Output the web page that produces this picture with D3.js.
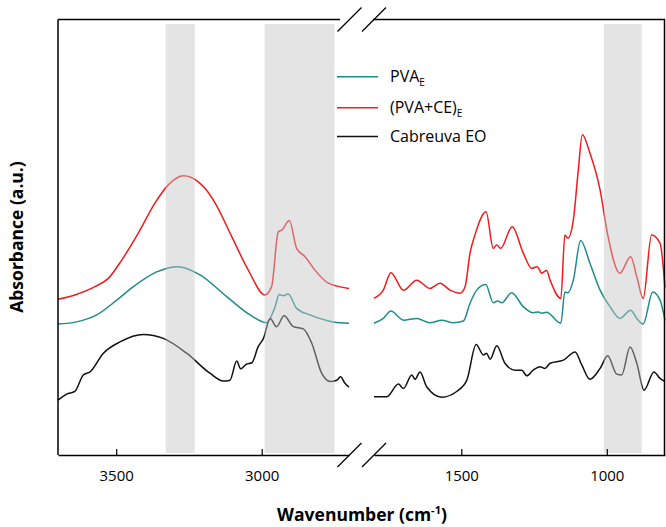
<!DOCTYPE html>
<html>
<head>
<meta charset="utf-8">
<script src="https://cdn.jsdelivr.net/npm/d3@7"></script>
<style>
  body { margin: 0; background: #fff; }
  svg { display: block; font-family: 'Open Sans', sans-serif; }
</style>
</head>
<body>
<div id="chart"></div>
<script>
// FTIR spectra, [wavenumber (cm-1), absorbance (a.u.)]
const pvaE = [
  [3700, 0.301], [3636, 0.306], [3567, 0.322], [3498, 0.356], [3441, 0.387], [3361, 0.421],
  [3287, 0.433], [3212, 0.414], [3120, 0.364], [3040, 0.322], [2983, 0.304], [2954, 0.341],
  [2940, 0.369], [2926, 0.366], [2909, 0.370], [2880, 0.337], [2834, 0.322], [2754, 0.306],
  [2700, 0.303],
  [1800, 0.303], [1768, 0.314], [1742, 0.331], [1699, 0.310], [1653, 0.314], [1608, 0.304],
  [1567, 0.310], [1527, 0.304], [1493, 0.308], [1470, 0.349], [1447, 0.379], [1416, 0.392],
  [1390, 0.350], [1375, 0.354], [1361, 0.350], [1327, 0.373], [1287, 0.341], [1253, 0.327],
  [1235, 0.329], [1224, 0.326], [1207, 0.328], [1158, 0.303], [1144, 0.375], [1134, 0.373],
  [1115, 0.402], [1090, 0.493], [1058, 0.441], [1023, 0.379], [989, 0.341], [955, 0.314],
  [918, 0.333], [897, 0.314], [875, 0.301], [842, 0.375], [817, 0.356], [800, 0.310]
];
const pvaCeE = [
  [3700, 0.358], [3642, 0.368], [3573, 0.387], [3527, 0.406], [3481, 0.448], [3424, 0.510],
  [3367, 0.579], [3321, 0.621], [3269, 0.642], [3218, 0.628], [3195, 0.613], [3160, 0.579],
  [3103, 0.502], [3046, 0.425], [2989, 0.368], [2966, 0.387], [2943, 0.513], [2931, 0.517],
  [2905, 0.539], [2880, 0.475], [2851, 0.456], [2817, 0.425], [2771, 0.395], [2700, 0.383],
  [1800, 0.360], [1768, 0.379], [1742, 0.419], [1699, 0.379], [1653, 0.402], [1608, 0.383],
  [1573, 0.395], [1539, 0.379], [1504, 0.372], [1487, 0.387], [1470, 0.464], [1453, 0.506],
  [1415, 0.559], [1390, 0.475], [1378, 0.483], [1365, 0.475], [1325, 0.525], [1287, 0.464],
  [1258, 0.429], [1239, 0.433], [1224, 0.418], [1207, 0.424], [1195, 0.402], [1158, 0.360],
  [1144, 0.506], [1134, 0.498], [1115, 0.540], [1098, 0.655], [1084, 0.736], [1058, 0.694],
  [1023, 0.609], [998, 0.510], [955, 0.418], [918, 0.456], [897, 0.410], [875, 0.360],
  [846, 0.506], [817, 0.487], [800, 0.385]
];
const cabreuvaEO = [
  [3700, 0.126], [3670, 0.140], [3642, 0.146], [3613, 0.184], [3590, 0.191], [3544, 0.234],
  [3487, 0.260], [3407, 0.277], [3338, 0.268], [3258, 0.234], [3178, 0.188], [3132, 0.170],
  [3109, 0.172], [3086, 0.216], [3072, 0.198], [3052, 0.209], [3034, 0.212], [3012, 0.249],
  [2994, 0.268], [2971, 0.314], [2949, 0.295], [2923, 0.320], [2891, 0.295], [2857, 0.290],
  [2828, 0.257], [2794, 0.188], [2765, 0.169], [2742, 0.172], [2729, 0.180], [2714, 0.165],
  [2700, 0.156],
  [1800, 0.134], [1756, 0.134], [1716, 0.163], [1699, 0.153], [1670, 0.184], [1659, 0.174],
  [1642, 0.191], [1619, 0.157], [1567, 0.133], [1516, 0.146], [1481, 0.172], [1449, 0.254],
  [1424, 0.230], [1413, 0.234], [1401, 0.220], [1378, 0.251], [1350, 0.211], [1315, 0.195],
  [1292, 0.195], [1275, 0.182], [1253, 0.195], [1230, 0.203], [1212, 0.199], [1195, 0.211],
  [1149, 0.218], [1109, 0.237], [1086, 0.207], [1058, 0.174], [1023, 0.199], [997, 0.228],
  [966, 0.186], [949, 0.184], [920, 0.248], [897, 0.211], [872, 0.149], [838, 0.191],
  [817, 0.176], [800, 0.169]
];

const seriesNames = ['PVA', '(PVA+CE)', 'Cabreuva EO'];
const seriesSubs = ['E', 'E', ''];
const seriesColors = ['#1f8c8c', '#f01c1c', '#111111'];
const seriesData = [pvaE, pvaCeE, cabreuvaEO];

const leftDomain = [3700, 2700];
const rightDomain = [1800, 800];
const leftTicks = [3500, 3000];
const rightTicks = [1500, 1000];
const bands = [[3330, 3230], [2990, 2750], [1010, 880]];

const width = 666, height = 527;
const yTop = 20, yBottom = 455;

const svg = d3.select('#chart').append('svg')
  .attr('width', width)
  .attr('height', height);

const xLeft = d3.scaleLinear().domain(leftDomain).range([58, 349]);
const xRight = d3.scaleLinear().domain(rightDomain).range([374, 665]);
const y = d3.scaleLinear().domain([0, 1]).range([yBottom, yTop]);

const panels = [
  { x: xLeft, keep: d => d[0] >= 2700 },
  { x: xRight, keep: d => d[0] <= 1800 }
];

// curves
seriesData.forEach((data, i) => {
  panels.forEach(p => {
    const line = d3.line()
      .x(d => p.x(d[0]))
      .y(d => y(d[1]))
      .curve(d3.curveMonotoneX);
    svg.append('path')
      .datum(data.filter(p.keep))
      .attr('fill', 'none')
      .attr('stroke', seriesColors[i])
      .attr('stroke-width', 1.5)
      .attr('d', line);
  });
});

// grey bands sit on top of the curves
bands.forEach(b => {
  const sc = b[0] > 2000 ? xLeft : xRight;
  svg.append('rect')
    .attr('x', sc(b[0]))
    .attr('y', 24)
    .attr('width', sc(b[1]) - sc(b[0]))
    .attr('height', 453 - 24)
    .attr('fill', '#c4c4c4')
    .attr('opacity', 0.45);
});

// frame
const frame = svg.append('g').attr('stroke', '#000').attr('stroke-width', 1.5).attr('fill', 'none');
frame.append('line').attr('x1', 58).attr('x2', 58).attr('y1', yTop - 0.5).attr('y2', yBottom);
frame.append('line').attr('x1', 664.5).attr('x2', 664.5).attr('y1', yTop - 0.5).attr('y2', yBottom);
frame.append('line').attr('x1', 58).attr('x2', 340).attr('y1', yTop - 0.5).attr('y2', yTop - 0.5);
frame.append('line').attr('x1', 373).attr('x2', 665).attr('y1', yTop - 0.5).attr('y2', yTop - 0.5);

// break marks
[349.5, 374].forEach(cx => {
  [yTop - 0.5, yBottom].forEach(cy => {
    frame.append('line')
      .attr('x1', cx - 12).attr('y1', cy + 12)
      .attr('x2', cx + 12).attr('y2', cy - 12)
      .attr('stroke-width', 1.2);
  });
});

// x axes
[[xLeft, leftTicks], [xRight, rightTicks]].forEach(([sc, ticks]) => {
  const g = svg.append('g')
    .attr('transform', `translate(0,${yBottom})`)
    .call(d3.axisBottom(sc).tickValues(ticks).tickFormat(d3.format('d'))
      .tickSizeInner(-6).tickSizeOuter(0).tickPadding(15));
  g.select('.domain').attr('stroke-width', 1.5);
  g.selectAll('.tick line').attr('stroke-width', 1.2);
  g.selectAll('.tick text')
    .attr('font-size', 15)
    .attr('font-family', 'Open Sans, sans-serif')
    .attr('fill', '#000');
});

// axis titles
const xt = svg.append('text')
  .attr('x', 362).attr('y', 521)
  .attr('text-anchor', 'middle')
  .attr('font-size', 17.5)
  .attr('font-weight', 'bold')
  .text('Wavenumber (cm');
xt.append('tspan').attr('font-size', 11).attr('dy', -7).text('-1');
xt.append('tspan').attr('dy', 7).text(')');

svg.append('text')
  .attr('transform', 'translate(23,237) rotate(-90)')
  .attr('text-anchor', 'middle')
  .attr('font-size', 17.5)
  .attr('font-weight', 'bold')
  .text('Absorbance (a.u.)');

// legend
const legendY = [76.7, 107.7, 136.5];
seriesNames.forEach((name, i) => {
  svg.append('line')
    .attr('x1', 337).attr('x2', 378)
    .attr('y1', legendY[i]).attr('y2', legendY[i])
    .attr('stroke', seriesColors[i])
    .attr('stroke-width', 1.5);
  const t = svg.append('text')
    .attr('x', 390).attr('y', legendY[i] + 5.5)
    .attr('font-size', 16)
    .attr('fill', '#000')
    .text(name);
  if (seriesSubs[i]) {
    t.append('tspan').attr('font-size', 10).attr('dy', 4).text(seriesSubs[i]);
  }
});
</script>
</body>
</html>
